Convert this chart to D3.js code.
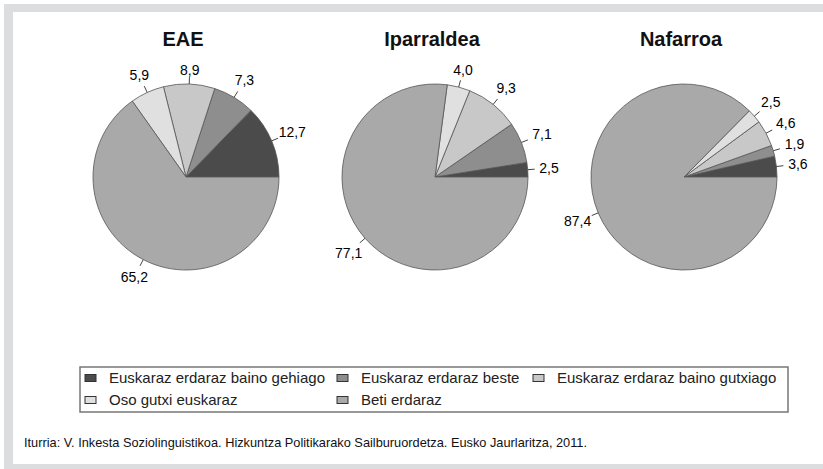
<!DOCTYPE html>
<html>
<head>
<meta charset="utf-8">
<script src="https://cdn.jsdelivr.net/npm/d3@7"></script>
<style>
  body { margin: 0; background: #fff; }
  svg { display: block; font-family: "Liberation Sans", Arial, sans-serif; }
</style>
</head>
<body>
<div id="chart"></div>
<script>
// data
const regions = ["EAE", "Iparraldea", "Nafarroa"];
const categories = [
    "Euskaraz erdaraz baino gehiago",
    "Euskaraz erdaraz beste",
    "Euskaraz erdaraz baino gutxiago",
    "Oso gutxi euskaraz",
    "Beti erdaraz"
];
const eae = [12.7, 7.3, 8.9, 5.9, 65.2];
const iparraldea = [2.5, 7.1, 9.3, 4.0, 77.1];
const nafarroa = [3.6, 1.9, 4.6, 2.5, 87.4];
const source = "Iturria: V. Inkesta Soziolinguistikoa. Hizkuntza Politikarako Sailburuordetza. Eusko Jaurlaritza, 2011.";

const series = [eae, iparraldea, nafarroa];

var width = 823, height = 469;

const svg = d3.select("#chart").append("svg")
    .attr("width", width)
    .attr("height", height);

// grey frame round the white panel
svg.append("rect").attr("x", 4).attr("y", 4).attr("width", width - 4).attr("height", height - 4)
    .attr("fill", "#dcdddf");
svg.append("rect").attr("x", 13).attr("y", 12).attr("width", width - 13).attr("height", 452)
    .attr("fill", "#fff");

var color = d3.scaleOrdinal()
    .domain(categories)
    .range(["#4b4b4b", "#8e8e8e", "#c8c8c8", "#e0e0e0", "#a9a9a9"]);

var cx = d3.scalePoint()
    .domain(regions)
    .range([186, 684]);

var cy = 177, r = 93;

const fmt = d3.formatLocale({decimal: ",", thousands: ".", grouping: [3], currency: ["", ""]}).format(".1f");

// slices go anticlockwise from 3 o'clock
var pie = d3.pie()
    .sort(null)
    .startAngle(Math.PI / 2)
    .endAngle(Math.PI / 2 - 2 * Math.PI);

var arc = d3.arc().innerRadius(0).outerRadius(r);

regions.forEach((name, i) => {
    const g = svg.append("g")
        .attr("transform", "translate(" + cx(name) + "," + cy + ")");

    g.append("text")
        .attr("x", -3)
        .attr("y", -131)
        .attr("text-anchor", "middle")
        .attr("font-size", 20)
        .attr("font-weight", "bold")
        .attr("fill", "#111")
        .text(name);

    const arcs = pie(series[i]);

    g.selectAll(".slice")
        .data(arcs)
        .enter()
        .append("path")
        .attr("class", "slice")
        .attr("d", arc)
        .attr("fill", (d, k) => color(categories[k]))
        .attr("stroke", "#555")
        .attr("stroke-width", 0.8);

    // leader lines and value labels
    arcs.forEach(d => {
        const a = (d.startAngle + d.endAngle) / 2;
        const sx = Math.sin(a), sy = -Math.cos(a);
        g.append("line")
            .attr("x1", sx * r).attr("y1", sy * r)
            .attr("x2", sx * (r + 7)).attr("y2", sy * (r + 7))
            .attr("stroke", "#444")
            .attr("stroke-width", 1);
        const pad = 13 * Math.abs(sx) + 6 * Math.abs(sy) + 1;
        const lr = r + 7 + pad;
        g.append("text")
            .attr("x", sx * lr)
            .attr("y", sy * lr)
            .attr("dy", "0.35em")
            .attr("text-anchor", "middle")
            .attr("font-size", 14)
            .attr("fill", "#000")
            .text(fmt(d.value));
    });
});

// legend
svg.append("rect")
    .attr("x", 80).attr("y", 367).attr("width", 708).attr("height", 45)
    .attr("fill", "#fff")
    .attr("stroke", "#777")
    .attr("stroke-width", 1.5);

var legendCols = [85, 337, 533];
var legendRows = [378, 400];

const items = svg.selectAll(".legend-item")
    .data(categories)
    .enter()
    .append("g")
    .attr("class", "legend-item")
    .attr("transform", (d, k) => "translate(" + legendCols[k % 3] + "," + legendRows[Math.floor(k / 3)] + ")");

items.append("rect")
    .attr("x", 0).attr("y", -3.5)
    .attr("width", 11).attr("height", 7)
    .attr("fill", d => color(d))
    .attr("stroke", "#333")
    .attr("stroke-width", 1);

items.append("text")
    .attr("x", 24)
    .attr("y", 0)
    .attr("dy", "0.35em")
    .attr("font-size", 15)
    .attr("fill", "#222")
    .text(d => d);

// source line
svg.append("text")
    .attr("x", 24)
    .attr("y", 447)
    .attr("font-size", 13)
    .attr("fill", "#111")
    .attr("textLength", 563)
    .attr("lengthAdjust", "spacingAndGlyphs")
    .text(source);
</script>
</body>
</html>
